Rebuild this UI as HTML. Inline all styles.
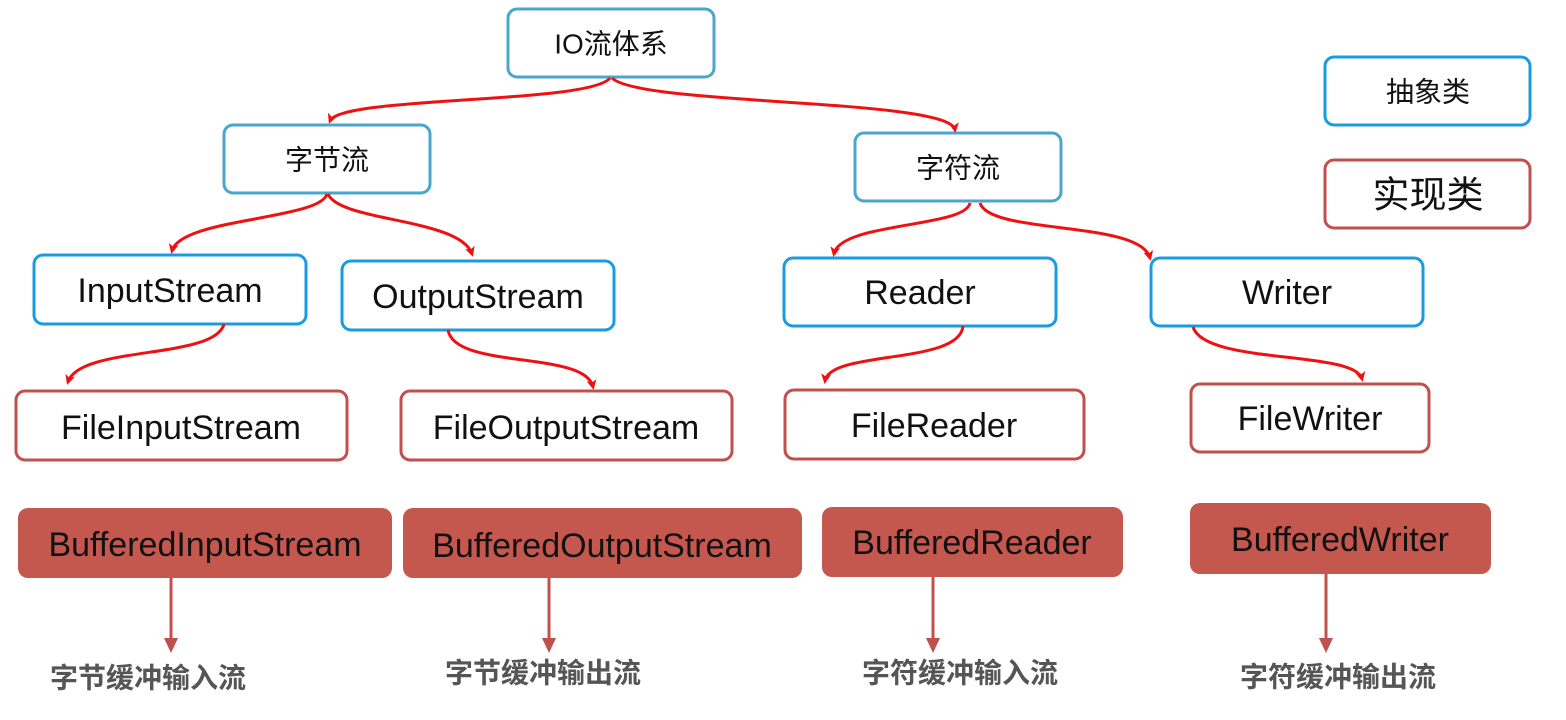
<!DOCTYPE html>
<html><head><meta charset="utf-8"><style>
body{margin:0;background:#fff;}
svg{display:block}
text{font-family:"Liberation Sans","Noto Sans CJK SC",sans-serif;text-anchor:middle;dominant-baseline:central;fill:#111}
</style></head><body>
<svg width="1566" height="720" viewBox="0 0 1566 720" xmlns="http://www.w3.org/2000/svg">
<defs>
<marker id="a" markerWidth="10" markerHeight="10" refX="7" refY="5" orient="auto" markerUnits="userSpaceOnUse">
<path d="M0,0 L10,5 L0,10 L2.5,5 z" fill="#ee1111"/></marker>
</defs>
<g fill="#fff" stroke-width="3">
<rect x="508" y="9" width="206" height="68" rx="9" stroke="#4ba6cc"/>
<rect x="224" y="125" width="206" height="68" rx="9" stroke="#4ba6cc"/>
<rect x="855" y="133" width="206" height="68" rx="9" stroke="#4ba6cc"/>
<rect x="1325" y="57" width="205" height="68" rx="9" stroke="#1a9be0"/>
<rect x="1325" y="160" width="205" height="68" rx="9" stroke="#c0504d"/>
<rect x="34" y="255" width="272" height="69" rx="9" stroke="#1a9be0"/>
<rect x="342" y="261" width="272" height="69" rx="9" stroke="#1a9be0"/>
<rect x="784" y="258" width="272" height="68" rx="9" stroke="#1a9be0"/>
<rect x="1151" y="258" width="272" height="68" rx="9" stroke="#1a9be0"/>
<rect x="16" y="391" width="331" height="69" rx="9" stroke="#c0504d"/>
<rect x="401" y="391" width="331" height="69" rx="9" stroke="#c0504d"/>
<rect x="785" y="390" width="299" height="69" rx="9" stroke="#c0504d"/>
<rect x="1191" y="384" width="238" height="68" rx="9" stroke="#c0504d"/>
</g>
<g fill="#c4574e">
<rect x="18" y="508" width="374" height="70" rx="10"/>
<rect x="403" y="508" width="399" height="70" rx="10"/>
<rect x="822" y="507" width="301" height="70" rx="10"/>
<rect x="1190" y="503" width="301" height="71" rx="10"/>
</g>
<g fill="none" stroke="#ee1111" stroke-width="3" marker-end="url(#a)">
<path d="M610,78 C590,104 340,96 330,121"/>
<path d="M612,78 C640,106 950,98 955,130"/>
<path d="M327,194 C320,220 180,218 172,251"/>
<path d="M328,194 C340,222 460,218 472,254"/>
<path d="M970,203 C965,228 840,222 834,254"/>
<path d="M980,203 C990,235 1140,220 1150,258"/>
<path d="M224,324 C215,360 80,345 68,382"/>
<path d="M448,330 C455,370 585,350 593,387"/>
<path d="M963,326 C960,365 830,350 825,381"/>
<path d="M1193,327 C1205,365 1355,350 1362,379"/>
</g>
<g stroke="#c0504d" stroke-width="3">
<line x1="171" y1="578" x2="171" y2="640"/>
<line x1="549" y1="578" x2="549" y2="640"/>
<line x1="933" y1="577" x2="933" y2="640"/>
<line x1="1326" y1="574" x2="1326" y2="640"/>
</g>
<g fill="#c0504d">
<path d="M164,638 L178,638 L171,653 z"/>
<path d="M542,638 L556,638 L549,653 z"/>
<path d="M926,638 L940,638 L933,653 z"/>
<path d="M1319,638 L1333,638 L1326,653 z"/>
</g>
<g font-size="28">
<text x="611" y="44">IO流体系</text>
<text x="327" y="160">字节流</text>
<text x="958" y="168">字符流</text>
<text x="1428" y="92">抽象类</text>
</g>
<text x="1428" y="195" font-size="37">实现类</text>
<g font-size="34">
<text x="170" y="291">InputStream</text>
<text x="478" y="297">OutputStream</text>
<text x="920" y="293">Reader</text>
<text x="1287" y="293">Writer</text>
<text x="181" y="428">FileInputStream</text>
<text x="566" y="428">FileOutputStream</text>
<text x="934" y="426">FileReader</text>
<text x="1310" y="419">FileWriter</text>
<text x="205" y="545">BufferedInputStream</text>
<text x="602" y="546">BufferedOutputStream</text>
<text x="972" y="543">BufferedReader</text>
<text x="1340" y="540">BufferedWriter</text>
</g>
<g font-size="28" font-weight="bold">
<text x="148" y="678" style="fill:#555">字节缓冲输入流</text>
<text x="543" y="673" style="fill:#555">字节缓冲输出流</text>
<text x="960" y="673" style="fill:#555">字符缓冲输入流</text>
<text x="1338" y="677" style="fill:#555">字符缓冲输出流</text>
</g>
</svg>
</body></html>
